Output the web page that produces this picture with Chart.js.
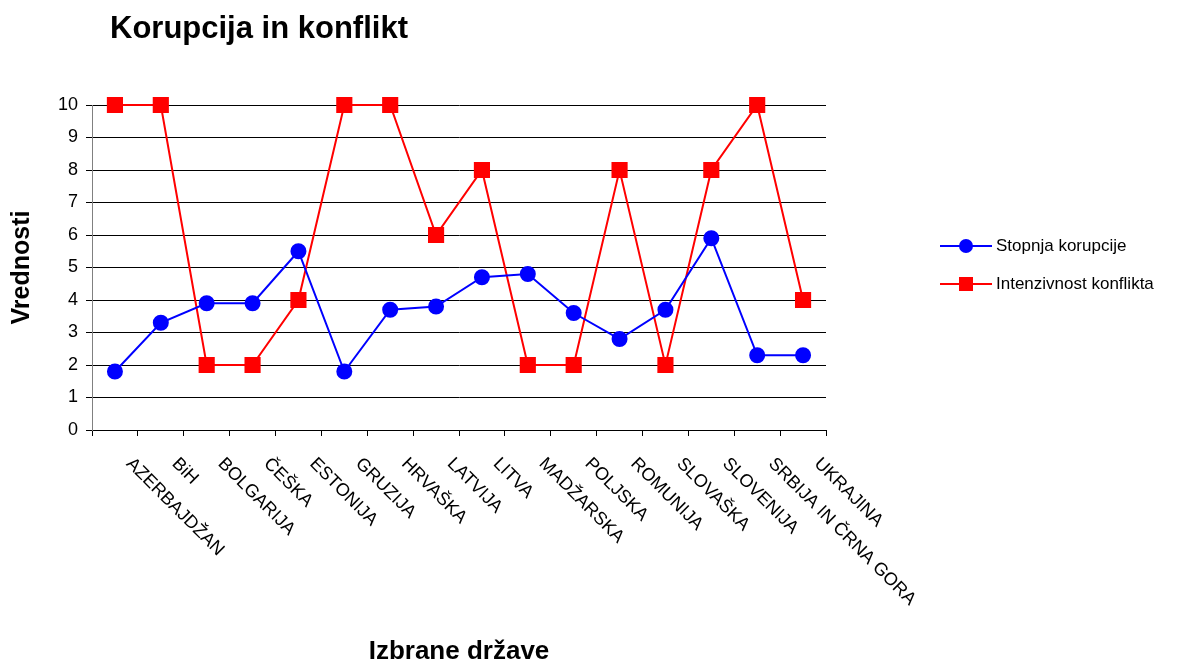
<!DOCTYPE html>
<html>
<head>
<meta charset="utf-8">
<script src="https://cdn.jsdelivr.net/npm/chart.js@4/dist/chart.umd.min.js"></script>
<style>
  html, body { margin: 0; padding: 0; background: #fff; }
  #wrap { width: 1178px; height: 665px; }
</style>
</head>
<body>
<div id="wrap"><canvas id="myChart"></canvas></div>
<script>
const naslov = 'Korupcija in konflikt';
const drzave = ['AZERBAJDŽAN', 'BiH', 'BOLGARIJA', 'ČEŠKA', 'ESTONIJA', 'GRUZIJA', 'HRVAŠKA', 'LATVIJA',
                'LITVA', 'MADŽARSKA', 'POLJSKA', 'ROMUNIJA', 'SLOVAŠKA', 'SLOVENIJA', 'SRBIJA IN ČRNA GORA', 'UKRAJINA'];
const korupcija = [1.8, 3.3, 3.9, 3.9, 5.5, 1.8, 3.7, 3.8, 4.7, 4.8, 3.6, 2.8, 3.7, 5.9, 2.3, 2.3];
const konflikt = [10, 10, 2, 2, 4, 10, 10, 6, 8, 2, 2, 8, 2, 8, 10, 4];

const FONT = '"Liberation Sans", Arial, sans-serif';
Chart.defaults.font.family = FONT;
Chart.defaults.color = '#000';

// title, rotated category labels and legend drawn on the canvas
const oznake = {
  id: 'oznake',
  afterDraw(chart) {
    const ctx = chart.ctx;
    const xs = chart.scales.x;
    const area = chart.chartArea;
    ctx.save();
    ctx.fillStyle = '#000';
    ctx.textBaseline = 'middle';
    ctx.font = 'bold 31px ' + FONT;
    ctx.fillText(naslov, 110, 29);

    ctx.font = '18px ' + FONT;
    ctx.textAlign = 'left';
    drzave.forEach((d, i) => {
      const x = xs.getPixelForValue(i);
      ctx.save();
      ctx.translate(x + 14, area.bottom + 31);
      ctx.rotate(Math.PI / 4);
      ctx.fillText(d, 0, 0);
      ctx.restore();
    });

    ctx.font = '17px ' + FONT;
    chart.data.datasets.forEach((ds, i) => {
      const y = 246 + i * 38;
      const x0 = area.right + 114;
      ctx.strokeStyle = ds.borderColor;
      ctx.lineWidth = 2;
      ctx.beginPath();
      ctx.moveTo(x0, y);
      ctx.lineTo(x0 + 52, y);
      ctx.stroke();
      ctx.fillStyle = ds.backgroundColor;
      if (ds.pointStyle === 'rect') {
        ctx.fillRect(x0 + 26 - 7, y - 7, 14, 14);
      } else {
        ctx.beginPath();
        ctx.arc(x0 + 26, y, 7, 0, Math.PI * 2);
        ctx.fill();
      }
      ctx.fillStyle = '#000';
      ctx.fillText(ds.label, x0 + 56, y);
    });
    ctx.restore();
  }
};

new Chart(document.getElementById('myChart'), {
  type: 'line',
  data: {
    labels: drzave,
    datasets: [{
      label: 'Stopnja korupcije',
      data: korupcija,
      borderColor: '#0000ff',
      backgroundColor: '#0000ff',
      borderWidth: 2,
      pointStyle: 'circle',
      pointRadius: 7,
      pointHoverRadius: 7,
      tension: 0,
      clip: false
    }, {
      label: 'Intenzivnost konflikta',
      data: konflikt,
      borderColor: '#ff0000',
      backgroundColor: '#ff0000',
      borderWidth: 2,
      pointStyle: 'rect',
      pointRadius: 10,
      pointHoverRadius: 10,
      tension: 0,
      clip: false
    }]
  },
  options: {
    responsive: true,
    maintainAspectRatio: false,
    animation: false,
    events: [],
    layout: { padding: { top: 105, right: 352, left: 0, bottom: 0 } },
    plugins: {
      legend: { display: false },
      title: { display: false },
      tooltip: { enabled: false }
    },
    scales: {
      x: {
        offset: true,
        grid: { offset: true, drawOnChartArea: false, tickLength: 6, color: '#000' },
        border: { color: '#000', width: 1 },
        ticks: { display: false },
        title: {
          display: true,
          text: 'Izbrane države',
          font: { size: 26, weight: 'bold', lineHeight: 1 },
          padding: { top: 0, bottom: 0 }
        },
        afterFit: (s) => { s.height = 235; }
      },
      y: {
        min: 0,
        max: 10,
        ticks: { stepSize: 1, font: { size: 18 }, padding: 8 },
        grid: { color: '#000', tickLength: 6 },
        border: { color: '#808080', width: 1 },
        title: {
          display: true,
          text: 'Vrednosti',
          font: { size: 25, weight: 'bold', lineHeight: 1 },
          padding: { top: 10, bottom: 0 }
        },
        afterFit: (s) => { s.width = 92; }
      }
    }
  },
  plugins: [oznake]
});
</script>
</body>
</html>
